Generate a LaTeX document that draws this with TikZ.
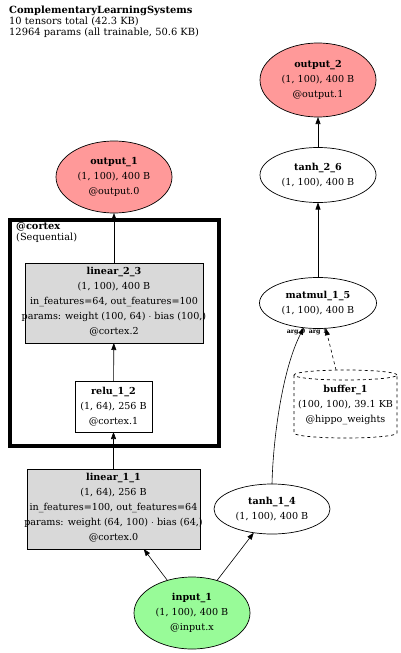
\documentclass[tikz,border=0pt]{standalone}
\usepackage{fontspec}
\setmainfont{DejaVu Serif}
\usetikzlibrary{shapes.geometric, arrows.meta}
\definecolor{outred}{RGB}{255,153,153}
\definecolor{ingreen}{RGB}{152,251,152}
\definecolor{modgray}{RGB}{217,217,217}
\begin{document}
\begin{tikzpicture}[x=1pt,y=-1pt,
  shp/.style={draw=black, line width=0.7pt, inner sep=0pt, outer sep=0pt},
  ell/.style={shp, ellipse},
  box/.style={shp, rectangle},
  txt/.style={inner sep=0pt, align=center, font=\fontsize{9.6}{15}\selectfont},
  arr/.style={-{Triangle[length=7pt,width=5pt]}, line width=0.6pt},
  argl/.style={inner sep=0pt, font=\bfseries\fontsize{6.3}{7}\selectfont}
]
\useasboundingbox (0,0) rectangle (400,653);

% title
\node[anchor=north west, align=left, inner sep=0pt, font=\fontsize{9.9}{11}\selectfont] (title) at (9,5.5)
  {\textbf{ComplementaryLearningSystems}\\10 tensors total (42.3 KB)\\12964 params (all trainable, 50.6 KB)};

% cluster
\node[draw, line width=4pt, inner sep=0pt, outer sep=0pt, minimum width=209pt, minimum height=226pt] (cortex) at (114.5,333) {};
\node[anchor=north west, align=left, inner sep=0pt, font=\fontsize{9.8}{11.5}\selectfont] (cortexlbl) at (16,222)
  {\textbf{@cortex}\\(Sequential)};

% shapes
\node[ell, fill=outred, minimum width=116pt, minimum height=74pt] (o2) at (318,80) {};
\node[txt] (o2t) at (o2) {\textbf{output\_2}\\(1, 100), 400 B\\@output.1};

\node[ell, fill=white, minimum width=116pt, minimum height=55pt] (t26) at (318,175) {};
\node[txt] (t26t) at (t26) {\textbf{tanh\_2\_6}\\(1, 100), 400 B};

\node[ell, fill=white, minimum width=117pt, minimum height=51pt] (mm) at (318,303) {};
\node[txt] (mmt) at (mm) {\textbf{matmul\_1\_5}\\(1, 100), 400 B};

\node[ell, fill=outred, minimum width=116pt, minimum height=72pt] (o1) at (114,177) {};
\node[txt] (o1t) at (o1) {\textbf{output\_1}\\(1, 100), 400 B\\@output.0};

\node[box, fill=modgray, minimum width=178pt, minimum height=80pt] (lin23) at (114,303) {};
\node[txt] (lin23t) at (114,302) {\textbf{linear\_2\_3}\\(1, 100), 400 B\\in\_features=64, out\_features=100\\params: weight (100, 64) $\cdot$ bias (100,)\\@cortex.2};

\node[box, fill=white, minimum width=77pt, minimum height=51pt] (relu) at (113.5,406.5) {};
\node[txt] (relut) at (relu) {\textbf{relu\_1\_2}\\(1, 64), 256 B\\@cortex.1};

\node[box, fill=modgray, minimum width=173pt, minimum height=80pt] (lin11) at (113.5,509) {};
\node[txt] (lin11t) at (113.5,508) {\textbf{linear\_1\_1}\\(1, 64), 256 B\\in\_features=100, out\_features=64\\params: weight (64, 100) $\cdot$ bias (64,)\\@cortex.0};

\node[ell, fill=white, minimum width=116pt, minimum height=50pt] (t14) at (272,509) {};
\node[txt] (t14t) at (t14) {\textbf{tanh\_1\_4}\\(1, 100), 400 B};

\node[ell, fill=ingreen, minimum width=116pt, minimum height=72pt] (in) at (192,613) {};
\node[txt] (int) at (in) {\textbf{input\_1}\\(1, 100), 400 B\\@input.x};

% buffer cylinder
\draw[dashed, line width=0.7pt, fill=white] (294,375) -- (294,433) arc[start angle=180, end angle=360, x radius=51.5pt, y radius=5pt] -- (397,375);
\draw[dashed, line width=0.7pt] (345.5,375) ellipse[x radius=51.5pt, y radius=5pt];
\node[txt] (buf) at (345.5,405) {\textbf{buffer\_1}\\(100, 100), 39.1 KB\\@hippo\_weights};
\coordinate (buftop) at (336,370);

% edges
\draw[arr] (t26) -- (o2);
\draw[arr] (mm) -- (t26);
\draw[arr] (lin23) -- (o1);
\draw[arr] (relu) -- (lin23);
\draw[arr] (lin11) -- (relu);
\draw[arr] (in) -- (lin11);
\draw[arr] (in) -- (t14);
\draw[arr] (t14.north) .. controls (273,440) and (282,370) .. (mm.240);
\draw[arr, dashed] (buftop) -- (mm.287);
\node[argl] (l0) at (296,332) {arg 0};
\node[argl] (l1) at (318,332) {arg 1};
\end{tikzpicture}
\end{document}
